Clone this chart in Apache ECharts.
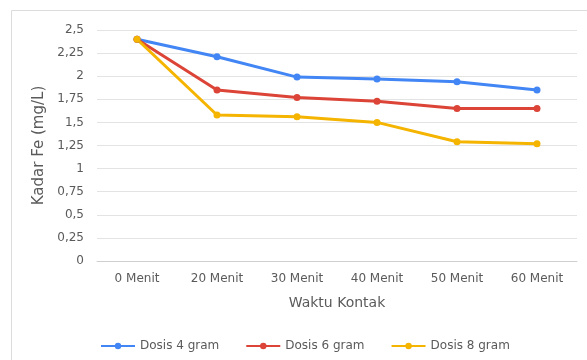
<!DOCTYPE html>
<html>
<head>
<meta charset="utf-8">
<script src="https://cdn.jsdelivr.net/npm/echarts@6/dist/echarts.min.js"></script>
<style>
html,body{margin:0;padding:0;background:#fff;}
#chart{width:587px;height:360px;}
</style>
</head>
<body>
<div id="chart"></div>
<script>
// Kadar Fe terhadap waktu kontak untuk tiga dosis
const categories = ['0 Menit', '20 Menit', '30 Menit', '40 Menit', '50 Menit', '60 Menit'];
const dosis4 = [2.40, 2.21, 1.99, 1.97, 1.94, 1.85];
const dosis6 = [2.40, 1.85, 1.77, 1.73, 1.65, 1.65];
const dosis8 = [2.40, 1.58, 1.56, 1.50, 1.29, 1.27];
const seriesNames = ['Dosis 4 gram', 'Dosis 6 gram', 'Dosis 8 gram'];
const colors = ['#4285F4', '#DB4437', '#F4B400'];

const chart = echarts.init(document.getElementById('chart'), null, { renderer: 'canvas' });
const fontFamily = '"DejaVu Sans", sans-serif';
const textColor = '#5a5a5a';

function makeSeries(name, data, color) {
  return {
    name: name,
    type: 'line',
    data: data,
    symbol: 'circle',
    symbolSize: 7,
    lineStyle: { width: 3, color: color },
    itemStyle: { color: color },
    animation: false
  };
}

chart.setOption({
  animation: false,
  color: colors,
  graphic: [{
    type: 'rect',
    shape: { x: 11.5, y: 10.5, width: 600, height: 400 },
    style: { fill: 'none', stroke: '#dcdcdc', lineWidth: 1 },
    silent: true,
    z: -1
  }],
  grid: { left: 97, right: 10, top: 30, bottom: 99, containLabel: false },
  legend: {
    data: seriesNames,
    left: 100,
    top: 340,
    padding: 0,
    itemWidth: 34,
    itemHeight: 8,
    itemGap: 26,
    textStyle: { color: textColor, fontSize: 12, fontFamily: fontFamily }
  },
  xAxis: {
    type: 'category',
    data: categories,
    boundaryGap: true,
    name: 'Waktu Kontak',
    nameLocation: 'middle',
    nameGap: 35,
    nameTextStyle: { color: textColor, fontSize: 14, fontFamily: fontFamily },
    axisLine: { lineStyle: { color: '#cfcfcf' } },
    axisTick: { show: false },
    axisLabel: { color: textColor, fontSize: 12, fontFamily: fontFamily, margin: 12 },
    splitLine: { show: false }
  },
  yAxis: {
    type: 'value',
    min: 0,
    max: 2.5,
    interval: 0.25,
    name: 'Kadar Fe (mg/L)',
    nameLocation: 'middle',
    nameGap: 48,
    nameTextStyle: { color: textColor, fontSize: 15, fontFamily: fontFamily },
    axisLine: { show: false },
    axisTick: { show: false },
    axisLabel: {
      color: textColor,
      fontSize: 12,
      fontFamily: fontFamily,
      margin: 13,
      formatter: function (v) { return String(+v.toFixed(2)).replace('.', ','); }
    },
    splitLine: { lineStyle: { color: '#e3e3e3', width: 1 } }
  },
  series: [
    makeSeries(seriesNames[0], dosis4, colors[0]),
    makeSeries(seriesNames[1], dosis6, colors[1]),
    makeSeries(seriesNames[2], dosis8, colors[2])
  ]
});
</script>
</body>
</html>
